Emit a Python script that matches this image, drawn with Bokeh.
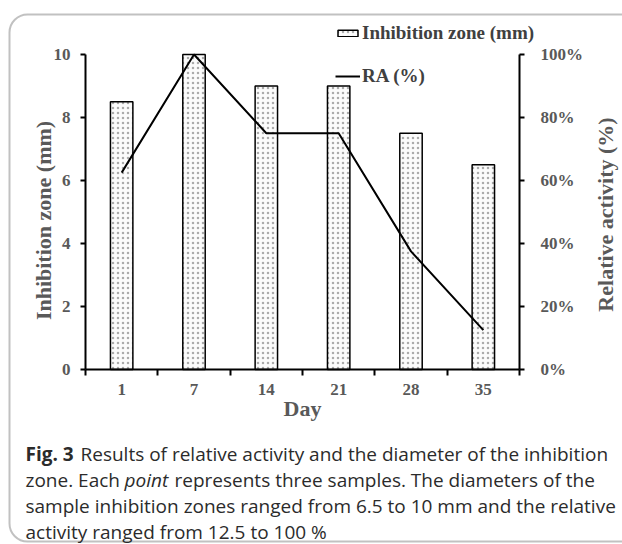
import math
from bokeh.plotting import figure
from bokeh.models import (Range1d, LinearAxis, FixedTicker, PrintfTickFormatter,
                          Legend, LegendItem, Label, BoxAnnotation, ColumnDataSource)
from bokeh.embed import file_html
from bokeh.resources import INLINE

# ---- data ----
days = ["1", "7", "14", "21", "28", "35"]
inhibition_zone_mm = [8.5, 10, 9, 9, 7.5, 6.5]
relative_activity_pct = [62.5, 100, 75, 75, 37.5, 12.5]
left_ticks = [0, 2, 4, 6, 8, 10]
right_ticks = [0, 20, 40, 60, 80, 100]

# ---- layout (page px) ----
W, H = 622, 543
X0, X6 = 85, 519          # pixel x of day-axis start / end
Y0, Y10 = 369, 54         # pixel y of value 0 / value 10
PXX = (X6 - X0) / len(days)
PXY = (Y0 - Y10) / 10.0

def dx(px):
    return (px - X0) / PXX

def dy(py):
    return (Y0 - py) / PXY

SERIF = "Liberation Serif"
AX_COLOR = "#595959"

xc = [i + 0.5 for i in range(len(days))]
src = ColumnDataSource(dict(x=xc, zone=inhibition_zone_mm, ra=relative_activity_pct, day=days))

p = figure(width=W, height=H, output_backend="svg", toolbar_location=None,
           x_range=Range1d(dx(0), dx(W)), y_range=Range1d(dy(H), dy(0)),
           min_border_left=0, min_border_right=0, min_border_top=0, min_border_bottom=0)
p.outline_line_color = None
p.grid.visible = False
p.extra_y_ranges = {"ra": Range1d(dy(H) * 10, dy(0) * 10)}

bars = p.vbar(x="x", top="zone", width=0.31, source=src,
              fill_color="#fbfbfb", line_color="black", line_width=1.5,
              hatch_pattern="dot", hatch_scale=5, hatch_color="#ababab", hatch_weight=1)
line = p.line(x="x", y="ra", source=src, y_range_name="ra",
              line_color="black", line_width=2)

def style_axis(ax):
    ax.axis_line_color = "black"
    ax.axis_line_width = 2
    ax.major_tick_line_color = "black"
    ax.major_tick_line_width = 2
    ax.major_tick_in = 0
    ax.major_tick_out = 5
    ax.minor_tick_line_color = None
    ax.major_label_text_font = SERIF
    ax.major_label_text_font_style = "bold"
    ax.major_label_text_font_size = "17px"
    ax.major_label_text_color = AX_COLOR

# x axis (fixed at y = 0)
xa = p.xaxis[0]
style_axis(xa)
xa.fixed_location = 0
xa.bounds = (0, len(days))
xa.ticker = FixedTicker(ticks=xc, minor_ticks=list(range(len(days) + 1)))
xa.major_label_overrides = {x: d for x, d in zip(xc, days)}
xa.major_tick_out = 0
xa.minor_tick_line_color = "black"
xa.minor_tick_line_width = 2
xa.minor_tick_in = 0
xa.minor_tick_out = 6
xa.major_label_standoff = 8

# left axis (fixed at x = 0)
ya = p.yaxis[0]
style_axis(ya)
ya.fixed_location = 0
ya.bounds = (0, 10)
ya.ticker = FixedTicker(ticks=left_ticks)
ya.major_label_standoff = 10

# right axis (fixed at x = 6)
ra = LinearAxis(y_range_name="ra", ticker=FixedTicker(ticks=right_ticks),
                formatter=PrintfTickFormatter(format="%d%%"))
style_axis(ra)
ra.fixed_location = len(days)
ra.bounds = (0, 100)
ra.major_label_standoff = 16
p.add_layout(ra, "right")

# axis titles
def txt(text, px, py, size, font=SERIF, style="bold", color=AX_COLOR, angle=0.0,
        align="center", baseline="middle"):
    p.add_layout(Label(x=dx(px), y=dy(py), text=text, text_font=font,
                       text_font_size=size, text_font_style=style, text_color=color,
                       angle=angle, text_align=align, text_baseline=baseline))

txt("Inhibition zone (mm)", 43, 220, "22px", angle=math.pi / 2)
txt("Relative activity (%)", 605, 214, "22px", angle=math.pi / 2)
txt("Day", 302, 408, "22px")

# legend
legend = Legend(items=[LegendItem(label="Inhibition zone (mm)", renderers=[bars]),
                       LegendItem(label="RA (%)", renderers=[line])],
                location=(335, H - 87), orientation="vertical", padding=0, margin=0,
                spacing=21, glyph_width=25, glyph_height=8, label_standoff=2,
                border_line_color=None, background_fill_alpha=0,
                label_text_font=SERIF, label_text_font_style="bold",
                label_text_font_size="19px", label_text_color="#404040")
p.add_layout(legend, "center")

# caption
CAP = dict(font="Open Sans", size="19px", color="#2b2b2b", align="left", baseline="alphabetic")
txt("Fig. 3", 25, 453, style="bold", **CAP)
txt("Results of relative activity and the diameter of the inhibition", 80, 453, style="normal", **CAP)
txt("zone. Each", 25, 479, style="normal", **CAP)
txt("point", 124, 479, style="italic", **CAP)
txt("represents three samples. The diameters of the", 174, 479, style="normal", **CAP)
txt("sample inhibition zones ranged from 6.5 to 10 mm and the relative", 25, 505, style="normal", **CAP)
txt("activity ranged from 12.5 to 100 %", 25, 531, style="normal", **CAP)

# rounded frame around figure + caption
border = BoxAnnotation(left=dx(9), right=dx(W + 60), top=dy(14), bottom=dy(541),
                       fill_alpha=0, line_color="#333333", line_width=2)
try:
    border.border_radius = 18
except Exception:
    pass
p.add_layout(border)

open("out.html", "w").write(file_html(p, INLINE))
